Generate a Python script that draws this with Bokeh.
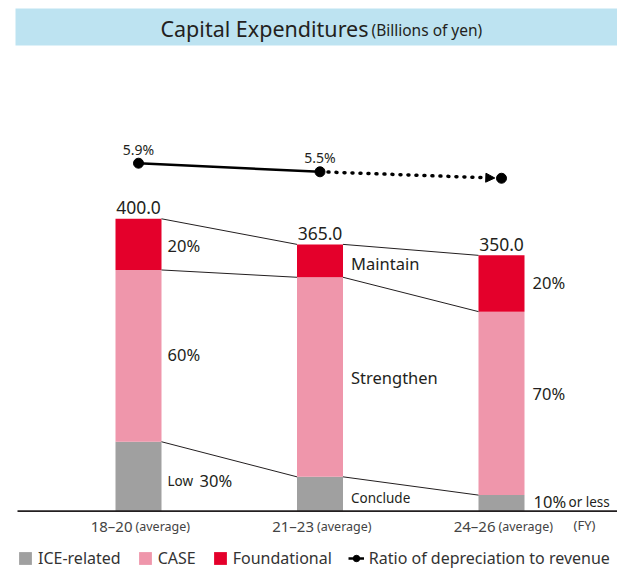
from bokeh.plotting import figure
from bokeh.models import Range1d, Legend, LegendItem, Arrow, NormalHead
from bokeh.core.properties import value
from bokeh.embed import file_html
from bokeh.resources import INLINE

# ---------------- data ----------------
periods = ["18–20", "21–23", "24–26"]
period_note = "(average)"
fy_label = "(FY)"
ice_related = [95.0, 47.0, 22.0]
case_vals = [235.0, 273.0, 251.0]
foundational = [70.0, 45.0, 77.0]
total_labels = ["400.0", "365.0", "350.0"]
ratio = [5.9, 5.5, 5.2]
ratio_labels = ["5.9%", "5.5%", ""]
found_labels = ["20%", "Maintain", "20%"]
case_labels = ["60%", "Strengthen", "70%"]
ice_main_labels = ["30%", "", "10%"]
ice_note_labels = ["Low", "Conclude", "or less"]
series_names = ["ICE-related", "CASE", "Foundational"]
ratio_name = "Ratio of depreciation to revenue"
title_main = "Capital Expenditures"
title_unit = "(Billions of yen)"

# ---------------- layout / style ----------------
W, H = 617, 568
XS = 181.5      # px per category step
YS = 0.731      # px per billion yen
RS = 21.5       # px per ratio percentage point
FONT_NAME = "Noto Sans"
FONT = value(FONT_NAME)
TXT = "#231f20"
GREY, PINK, RED, BLUE = "#a0a0a0", "#ef96ab", "#e4002b", "#bde3f1"
MID = "middle"

x = list(range(len(periods)))
BW = 46 / XS
x0 = -138 / XS
x1 = x0 + W / XS
base_px = 510.7
y1 = base_px / YS
y0 = y1 - H / YS
r1 = ratio[0] + 162.7 / RS
r0 = r1 - H / RS


def px_x(px):
    return x0 + px / XS


def px_y(py):
    return y1 - py / YS


p = figure(width=W, height=H, x_range=Range1d(x0, x1), y_range=Range1d(y0, y1),
           output_backend="svg", toolbar_location=None, min_border=0,
           x_axis_location=None, y_axis_location=None, outline_line_color=None)
p.grid.visible = False
p.extra_y_ranges = {"ratio": Range1d(r0, r1)}
p.background_fill_color = "white"

# title box
p.quad(left=[px_x(15)], right=[x1], top=[px_y(8)], bottom=[px_y(45)],
       fill_color=BLUE, line_color=None)
p.text(x=[px_x(368)], y=[px_y(28)], text=[title_main], text_align="right",
       text_baseline=MID, text_font=FONT, text_font_size="21.5px", text_color=TXT)
p.text(x=[px_x(371)], y=[px_y(29.5)], text=[title_unit], text_align="left",
       text_baseline=MID, text_font=FONT, text_font_size="15.5px", text_color=TXT)

# stacked bars
b1 = ice_related
b2 = [a + b for a, b in zip(ice_related, case_vals)]
b3 = [a + b for a, b in zip(b2, foundational)]
r_ice = p.vbar(x=x, bottom=0, top=b1, width=BW, fill_color=GREY, line_color=None)
r_case = p.vbar(x=x, bottom=b1, top=b2, width=BW, fill_color=PINK, line_color=None)
r_found = p.vbar(x=x, bottom=b2, top=b3, width=BW, fill_color=RED, line_color=None)

# connector lines between bars
for level in (b1, b2, b3):
    p.segment(x0=[x[i] + BW / 2 for i in range(len(x) - 1)], y0=level[:-1],
              x1=[x[i + 1] - BW / 2 for i in range(len(x) - 1)], y1=level[1:],
              line_color=TXT, line_width=1)

# baseline
p.segment(x0=[px_x(17)], y0=[0], x1=[x1], y1=[0], line_color=TXT, line_width=1.8)

# total labels
p.text(x=x, y=b3, text=total_labels, text_align="center", text_baseline=MID,
       y_offset=-11, text_font=FONT, text_font_size="17.5px", text_color=TXT)

# segment labels
lab_x = [xi + BW / 2 for xi in x]
found_mid = [(a + b) / 2 for a, b in zip(b2, b3)]
case_mid = [(a + b) / 2 for a, b in zip(b1, b2)]
ice_mid = [a / 2 for a in b1]
p.text(x=lab_x, y=found_mid, text=found_labels, x_offset=[6, 8, 8], y_offset=[1, 2.5, -1],
       text_align="left", text_baseline=MID, text_font=FONT,
       text_font_size="16.5px", text_color=TXT)
p.text(x=lab_x, y=case_mid, text=case_labels, x_offset=[6, 8, 8], y_offset=[-1.5, 0, -9.5],
       text_align="left", text_baseline=MID, text_font=FONT,
       text_font_size="16.5px", text_color=TXT)
main_idx = [i for i, t in enumerate(ice_main_labels) if t]
p.text(x=[lab_x[i] for i in main_idx], y=[ice_mid[i] for i in main_idx],
       text=[ice_main_labels[i] for i in main_idx], x_offset=[38, 9], y_offset=[4, -2],
       text_align="left", text_baseline=MID, text_font=FONT,
       text_font_size="16.5px", text_color=TXT)
p.text(x=lab_x, y=ice_mid, text=ice_note_labels, x_offset=[6, 8, 44], y_offset=[4.5, 4, -1],
       text_align="left", text_baseline=MID, text_font=FONT,
       text_font_size="13.5px", text_color=TXT)

# x category labels
p.text(x=x, y=[0] * len(x), text=periods, x_offset=-6, y_offset=15, text_align="right",
       text_baseline=MID, text_font=FONT, text_font_size="15px", text_color="#444444")
p.text(x=x, y=[0] * len(x), text=[period_note] * len(x), x_offset=-3, y_offset=15,
       text_align="left", text_baseline=MID, text_font=FONT,
       text_font_size="12.5px", text_color="#444444")
p.text(x=[x[-1]], y=[0], text=[fy_label], x_offset=72, y_offset=14, text_align="left",
       text_baseline=MID, text_font=FONT, text_font_size="13px", text_color="#444444")

# ratio of depreciation to revenue
r_line = p.line(x[:2], ratio[:2], y_range_name="ratio", line_color="black", line_width=2.5)
frac = 1 - 6.7 / XS
xe = x[1] + (x[2] - x[1]) * frac
ye = ratio[1] + (ratio[2] - ratio[1]) * frac
arrow = Arrow(x_start=x[1], y_start=ratio[1], x_end=xe, y_end=ye, y_range_name="ratio",
              line_color="black", line_width=3.5, line_dash="1 7", line_cap="round",
              end=NormalHead(size=9, fill_color="black", line_color="black", line_width=1))
p.add_layout(arrow)
r_pts = p.scatter(x, ratio, y_range_name="ratio", size=10, color="black")
lab_idx = [i for i, t in enumerate(ratio_labels) if t]
p.text(x=[x[i] for i in lab_idx], y=[ratio[i] for i in lab_idx],
       text=[ratio_labels[i] for i in lab_idx], y_range_name="ratio", y_offset=-14,
       text_align="center", text_baseline=MID, text_font=FONT,
       text_font_size="14px", text_color=TXT)

# legend
legend = Legend(items=[LegendItem(label=series_names[0], renderers=[r_ice]),
                       LegendItem(label=series_names[1], renderers=[r_case]),
                       LegendItem(label=series_names[2], renderers=[r_found]),
                       LegendItem(label=ratio_name, renderers=[r_line, r_pts])],
                orientation="horizontal", location=(17, -1), glyph_width=16, glyph_height=16,
                label_standoff=5, spacing=16, padding=0, margin=0, border_line_color=None,
                background_fill_alpha=0, label_text_font=FONT_NAME,
                label_text_font_size="16px", label_text_color="#333333", label_height=16)
p.add_layout(legend)

open("out.html", "w").write(file_html(p, INLINE))
